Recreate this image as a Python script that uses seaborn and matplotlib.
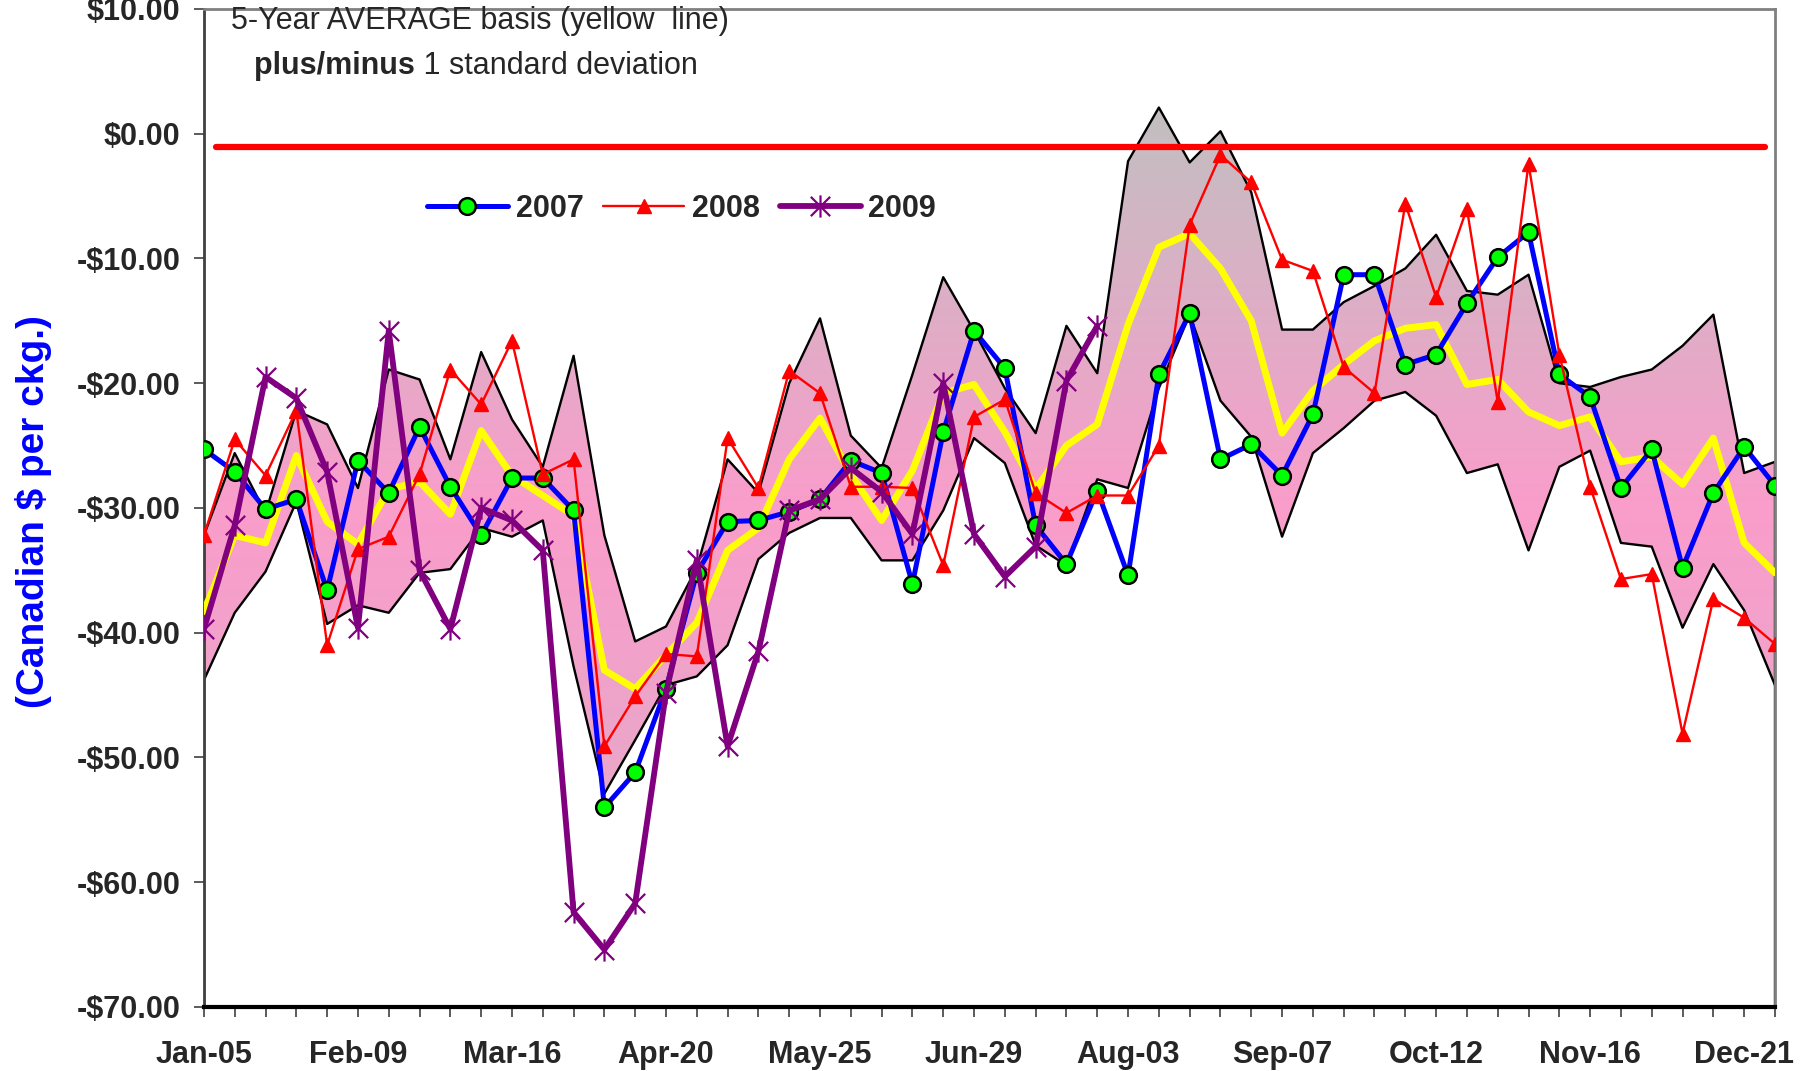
import numpy as np
import pandas as pd
import matplotlib
matplotlib.use('Agg')
import matplotlib.pyplot as plt
from matplotlib.colors import LinearSegmentedColormap
from matplotlib.path import Path
import seaborn as sns

# weekly categories (52 weeks starting Jan-05)
weeks = pd.date_range('2007-01-05', periods=52, freq='7D')
week_labels = [d.strftime('%b-%d') for d in weeks]

# 5-year average basis and +/- 1 std dev band
avg_basis = [-38.3, -32.2, -32.8, -25.8, -31.1, -32.9, -28.5, -27.9, -30.5, -23.8,
             -27.4, -29.0, -30.6, -43.0, -44.5, -41.8, -39.2, -33.4, -31.6, -26.1,
             -22.8, -27.3, -31.0, -27.0, -20.8, -20.1, -23.9, -28.5, -25.0, -23.3,
             -15.3, -9.1, -8.0, -10.8, -15.0, -24.0, -20.6, -18.5, -16.6, -15.6,
             -15.3, -20.1, -19.7, -22.3, -23.4, -22.7, -26.3, -25.9, -28.1, -24.4,
             -32.8, -35.2]
band_upper = [-32.2, -25.6, -30.4, -22.2, -23.3, -28.4, -18.9, -19.7, -26.1, -17.5,
              -22.9, -26.7, -17.8, -32.2, -40.7, -39.5, -34.8, -26.1, -28.8, -20.0,
              -14.8, -24.2, -26.8, -19.3, -11.5, -15.8, -20.4, -24.0, -15.4, -19.2,
              -2.2, 2.1, -2.3, 0.2, -4.7, -15.7, -15.7, -13.5, -12.2, -10.8,
              -8.1, -12.6, -12.9, -11.3, -20.0, -20.3, -19.5, -18.9, -17.0, -14.5,
              -27.2, -26.3]
band_lower = [-43.8, -38.4, -35.1, -29.5, -39.3, -37.8, -38.4, -35.2, -34.9, -31.6,
              -32.3, -31.0, -42.7, -52.9, -48.6, -44.2, -43.5, -41.0, -34.1, -32.0,
              -30.8, -30.8, -34.2, -34.2, -30.2, -24.4, -26.4, -33.0, -34.6, -27.7,
              -28.4, -20.4, -14.5, -21.4, -24.3, -32.3, -25.6, -23.6, -21.4, -20.7,
              -22.6, -27.2, -26.5, -33.4, -26.7, -25.4, -32.8, -33.1, -39.6, -34.5,
              -38.2, -44.2]

# yearly basis series
basis_2007 = [-25.3, -27.1, -30.1, -29.3, -36.6, -26.2, -28.8, -23.5, -28.3, -32.2,
              -27.6, -27.6, -30.2, -54.0, -51.2, -44.5, -35.2, -31.1, -31.0, -30.3,
              -29.3, -26.2, -27.2, -36.1, -23.9, -15.8, -18.8, -31.4, -34.5, -28.6,
              -35.4, -19.3, -14.4, -26.1, -24.9, -27.4, -22.5, -11.3, -11.3, -18.5,
              -17.7, -13.6, -9.9, -7.9, -19.3, -21.1, -28.4, -25.3, -34.8, -28.8,
              -25.1, -28.2]
basis_2008 = [-32.2, -24.5, -27.4, -22.2, -41.0, -33.3, -32.3, -27.3, -18.9, -21.7,
              -16.6, -27.3, -26.1, -49.1, -45.1, -41.7, -41.9, -24.4, -28.4, -19.0,
              -20.8, -28.3, -28.3, -28.4, -34.6, -22.7, -21.3, -28.8, -30.4, -29.0,
              -29.0, -25.0, -7.3, -1.7, -3.9, -10.1, -11.0, -18.7, -20.8, -5.6,
              -13.1, -6.0, -21.5, -2.4, -17.7, -28.3, -35.7, -35.3, -48.1, -37.3,
              -38.8, -40.9]
basis_2009 = [-39.7, -31.4, -19.5, -21.2, -27.1, -39.6, -15.8, -35.0, -39.7, -30.0,
              -31.0, -33.4, -62.4, -65.4, -61.7, -44.8, -34.2, -49.1, -41.5, -30.2,
              -29.3, -26.8, -28.7, -32.1, -20.0, -32.1, -35.5, -33.1, -19.8, -15.4]

reference_level = -1.05
y_ticks = list(range(-70, 11, 10))

sns.set_style('white')
plt.rcParams['font.family'] = ['Liberation Sans', 'DejaVu Sans']

x = np.arange(len(weeks))

fig = plt.figure(figsize=(18.11, 10.71), dpi=100)
ax = fig.add_axes([0.1126, 0.0598, 0.8675, 0.9318])

# gradient filled band (silver at top -> pink)
band = ax.fill_between(x, band_lower, band_upper, facecolor='none', edgecolor='none', zorder=1)
band_cmap = LinearSegmentedColormap.from_list(
    'band', [(0.0, '#C0C0C0'), (0.58, '#FA9DCB'), (1.0, '#E8A7C9')])
grad = np.linspace(0, 1, 256).reshape(-1, 1)
im = ax.imshow(grad, extent=[x[0], x[-1], -54, 3], origin='upper', aspect='auto',
               cmap=band_cmap, zorder=1)
im.set_clip_path(band.get_paths()[0], transform=ax.transData)

sns.lineplot(x=x, y=band_upper, color='black', lw=1.7, zorder=2, ax=ax)
sns.lineplot(x=x, y=band_lower, color='black', lw=1.7, zorder=2, ax=ax)
ax.vlines([x[0], x[-1]], -70, [band_upper[0], band_upper[-1]], colors='black', lw=1.7, zorder=2)

sns.lineplot(x=x, y=avg_basis, color='#FFFF00', lw=5, zorder=3, ax=ax)
ax.axhline(reference_level, xmin=0.0074, xmax=0.9935, color='#FF0000', lw=4.5, zorder=3)

star = Path([(-1, -1), (1, 1), (-1, 1), (1, -1), (0, -1.15), (0, 1.15)],
            [Path.MOVETO, Path.LINETO, Path.MOVETO, Path.LINETO, Path.MOVETO, Path.LINETO])

sns.lineplot(x=x, y=basis_2007, color='#0000FF', lw=3.6, marker='o', markersize=12,
             markerfacecolor='#00FF00', markeredgecolor='black', markeredgewidth=1.8,
             label='2007', zorder=4, ax=ax)
sns.lineplot(x=x, y=basis_2008, color='#FF0000', lw=1.7, marker='^', markersize=10,
             markerfacecolor='#FF0000', markeredgecolor='#FF0000', markeredgewidth=1,
             label='2008', zorder=5, ax=ax)
sns.lineplot(x=x[:len(basis_2009)], y=basis_2009, color='#800080', lw=4.2, marker=star,
             markersize=16, markerfacecolor='none', markeredgecolor='#800080',
             markeredgewidth=1.6, label='2009', zorder=6, ax=ax)

handles, labels = ax.get_legend_handles_labels()
ax.legend(handles, labels, ncol=3, frameon=False, loc='center left',
          bbox_to_anchor=(0.142, 0.80), borderpad=0, borderaxespad=0,
          handlelength=2.65, handletextpad=0.25, columnspacing=0.65,
          prop={'weight': 'bold', 'size': 22})

ax.set_xlim(x[0], x[-1])
ax.set_ylim(-70, 10)
ax.set_xticks(x, minor=True)
ax.set_xticks(x[::5])
ax.set_xticklabels(week_labels[::5], fontsize=22, fontweight='bold')
ax.set_yticks(y_ticks)
ax.set_yticklabels([('-$%.2f' % -v) if v < 0 else ('$%.2f' % v) for v in y_ticks],
                   fontsize=22, fontweight='bold')
ax.tick_params(axis='both', which='both', direction='out', length=7, width=1.2,
               color='#404040', left=True, bottom=True)
ax.tick_params(axis='x', which='major', pad=17)
ax.tick_params(axis='y', which='major', pad=10)

ax.set_ylabel('(Canadian $ per ckg.)', color='#0000FF', fontsize=28, fontweight='bold')
ax.yaxis.set_label_coords(-0.097, 0.496)
ax.set_xlabel('')

for side in ['top', 'right']:
    ax.spines[side].set_color('#808080')
    ax.spines[side].set_linewidth(2)
ax.spines['left'].set_color('#404040')
ax.spines['left'].set_linewidth(2)
ax.spines['bottom'].set_color('black')
ax.spines['bottom'].set_linewidth(3)

ax.text(0.0172, 0.988, '5-Year AVERAGE basis (yellow  line)', transform=ax.transAxes,
        fontsize=22, va='center', ha='left')
t2 = ax.text(0.0318, 0.943, 'plus/minus', transform=ax.transAxes, fontsize=22,
             fontweight='bold', va='center', ha='left')
ax.annotate(' 1 standard deviation', xy=(1, 0), xycoords=t2, fontsize=22,
            va='bottom', ha='left')

fig.savefig('out.png', dpi=100)
